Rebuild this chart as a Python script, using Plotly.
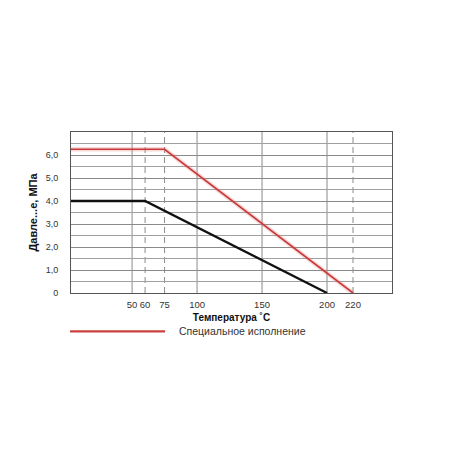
import plotly.graph_objects as go

# Data
special_x = [0, 75, 220]
special_y = [6.25, 6.25, 0]
standard_x = [0, 60, 200]
standard_y = [4.0, 4.0, 0]

x_tick_vals = [50, 60, 75, 100, 150, 200, 220]
x_tick_text = ["50", "60", "75", "100", "150", "200", "220"]
y_tick_vals = [0, 1, 2, 3, 4, 5, 6]
y_tick_text = ["0", "1,0", "2,0", "3,0", "4,0", "5,0", "6,0"]
solid_vlines = [50, 100, 150, 200]
dashed_vlines = [60, 75, 220]

legend_label = "Специальное исполнение"
x_title = "Температура ˚C"
y_title = "Давле...е, МПа"

X_RANGE = [3, 250]
Y_RANGE = [0, 7]

fig = go.Figure()

# red halo + line
fig.add_trace(go.Scatter(x=special_x, y=special_y, mode="lines",
                         line=dict(color="rgba(230,130,130,0.3)", width=4.5),
                         hoverinfo="skip", showlegend=False))
fig.add_trace(go.Scatter(x=special_x, y=special_y, mode="lines",
                         line=dict(color="#c93838", width=1.6),
                         name=legend_label, showlegend=False))
fig.add_trace(go.Scatter(x=standard_x, y=standard_y, mode="lines",
                         line=dict(color="#111111", width=2.3),
                         showlegend=False))

shapes = []
for v in solid_vlines:
    shapes.append(dict(type="line", xref="x", yref="paper", x0=v, x1=v, y0=0, y1=1,
                       line=dict(color="#8a8a8a", width=1), layer="below"))
for v in dashed_vlines:
    shapes.append(dict(type="line", xref="x", yref="paper", x0=v, x1=v, y0=0, y1=1,
                       line=dict(color="#8a8a8a", width=1, dash="6px,4px"), layer="below"))
# legend sample line
shapes.append(dict(type="line", xref="paper", yref="paper", x0=-0.003, x1=0.293,
                   y0=-0.238, y1=-0.238, line=dict(color="#cc4040", width=2.2)))

fig.update_layout(
    width=450, height=450,
    margin=dict(l=63, r=66, t=124, b=165),
    paper_bgcolor="white", plot_bgcolor="white",
    font=dict(family="Liberation Sans, Arial, sans-serif", size=9, color="#333333"),
    shapes=shapes,
    annotations=[dict(text=legend_label, xref="paper", yref="paper",
                      x=0.33, y=-0.238, xanchor="left", yanchor="middle",
                      showarrow=False, font=dict(size=10.5, color="#333333"))],
    xaxis=dict(range=X_RANGE, tickmode="array", tickvals=x_tick_vals, ticktext=x_tick_text,
               showgrid=False, zeroline=False, showline=True, linecolor="#555555",
               linewidth=1, mirror=True, ticks="", ticklabelstandoff=3,
               tickfont=dict(size=9.5),
               title=dict(text="<b>" + x_title + "</b>", standoff=4,
                          font=dict(size=10, color="#111111"))),
    yaxis=dict(range=Y_RANGE, tickmode="array", tickvals=y_tick_vals, ticktext=y_tick_text,
               showgrid=True, gridcolor="#8a8a8a", gridwidth=1,
               minor=dict(dtick=0.5, showgrid=True, gridcolor="#a0a0a0", gridwidth=1),
               zeroline=False, showline=True, linecolor="#555555", linewidth=1, mirror=True,
               ticks="", ticklabelstandoff=10,
               title=dict(text="<b>" + y_title + "</b>", standoff=5,
                          font=dict(size=11, color="#111111"))),
)

fig.write_html("out.html")
